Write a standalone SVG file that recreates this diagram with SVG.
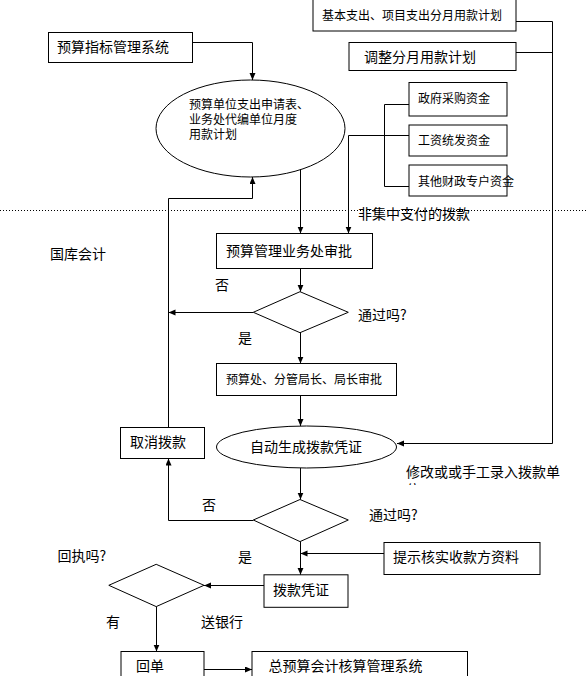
<svg xmlns="http://www.w3.org/2000/svg" width="588" height="676" viewBox="0 0 588 676">
<style>
.b{fill:#fff;stroke:#000;stroke-width:1}
.c{fill:none;stroke:#000;stroke-width:1}
.t{font-family:"Noto Sans CJK SC","Liberation Sans",sans-serif;font-size:14px;fill:#000;dominant-baseline:central}
.s{font-size:12px}
.dot{fill:none;stroke:#000;stroke-width:1;stroke-dasharray:1,2}
</style>
<defs>
<marker id="a" markerUnits="userSpaceOnUse" markerWidth="8" markerHeight="8" refX="7" refY="3" orient="auto">
<path d="M0,0 L7,3 L0,6 z" fill="#000"/>
</marker>
<clipPath id="clip1"><rect x="400" y="460" width="188" height="25"/></clipPath>
</defs>
<rect width="588" height="676" fill="#fff"/>
<line class="dot" x1="0" y1="210.5" x2="588" y2="210.5"/>
<g id="connectors">
<polyline class="c" points="516,21.5 552.5,21.5 552.5,443.5 397,443.5" marker-end="url(#a)"/>
<polyline class="c" points="516,52.5 552.5,52.5"/>
<polyline class="c" points="192.5,42.5 252.5,42.5 252.5,80" marker-end="url(#a)"/>
<polyline class="c" points="409,104.5 384.5,104.5 384.5,186.5 409,186.5"/>
<polyline class="c" points="409,135.5 348.5,135.5 348.5,233.5" marker-end="url(#a)"/>
<polyline class="c" points="300.5,167 300.5,233.5" marker-end="url(#a)"/>
<polyline class="c" points="300.5,268.5 300.5,291.7" marker-end="url(#a)"/>
<polyline class="c" points="253.3,312.5 168.5,312.5" marker-end="url(#a)"/>
<polyline class="c" points="300.5,332.7 300.5,363.5" marker-end="url(#a)"/>
<polyline class="c" points="300.5,395.5 300.5,426" marker-end="url(#a)"/>
<polyline class="c" points="168.5,427.5 168.5,198.5 252.5,198.5 252.5,177" marker-end="url(#a)"/>
<polyline class="c" points="300.5,468 300.5,499.5" marker-end="url(#a)"/>
<polyline class="c" points="253.3,520.5 168.5,520.5 168.5,458.5" marker-end="url(#a)"/>
<polyline class="c" points="300.5,541.6 300.5,574.8" marker-end="url(#a)"/>
<polyline class="c" points="384,553.5 300.5,553.5" marker-end="url(#a)"/>
<polyline class="c" points="264,585.5 204,585.5" marker-end="url(#a)"/>
<polyline class="c" points="156.5,606.6 156.5,651.5" marker-end="url(#a)"/>
<polyline class="c" points="204,669.5 252,669.5" marker-end="url(#a)"/>
</g>
<g id="n1"><rect class="b" x="313" y="-1" width="203" height="32"/><text class="t s" x="322" y="14">基本支出、项目支出分月用款计划</text></g>
<g id="n2"><rect class="b" x="349" y="42.5" width="167" height="28"/><text class="t" x="364" y="56">调整分月用款计划</text></g>
<g id="n3"><rect class="b" x="48.5" y="32.5" width="144" height="30"/><text class="t" x="57" y="46">预算指标管理系统</text></g>
<g id="n4"><ellipse class="b" cx="250.5" cy="128.5" rx="94.5" ry="48.5"/>
<text class="t s" x="189" y="103.5">预算单位支出申请表、</text>
<text class="t s" x="189" y="118.5">业务处代编单位月度</text>
<text class="t s" x="189" y="133">用款计划</text></g>
<g id="n5"><rect class="b" x="409" y="82.5" width="98" height="33.5"/><text class="t s" x="418" y="97">政府采购资金</text></g>
<g id="n6"><rect class="b" x="409" y="125" width="98" height="31"/><text class="t s" x="418" y="139">工资统发资金</text></g>
<g id="n7"><rect class="b" x="409" y="165" width="98" height="31"/><text class="t s" x="418" y="180">其他财政专户资金</text></g>
<g id="n8"><rect class="b" x="216.5" y="233.5" width="156" height="35"/><text class="t" x="226" y="249.5">预算管理业务处审批</text></g>
<g id="d1"><polygon class="b" points="300,291.7 348.3,312.3 300,332.7 253.3,312.3"/></g>
<g id="n9"><rect class="b" x="216.5" y="363.5" width="180" height="32"/><text class="t s" x="226" y="378">预算处、分管局长、局长审批</text></g>
<g id="n10"><rect class="b" x="120.5" y="427.5" width="84" height="31"/><text class="t" x="130" y="441">取消拨款</text></g>
<g id="n11"><ellipse class="b" cx="306.5" cy="447" rx="90" ry="21"/><text class="t" x="250" y="446">自动生成拨款凭证</text></g>
<g id="d2"><polygon class="b" points="300,499.5 348.3,520 300,541.6 253.3,520"/></g>
<g id="n12"><rect class="b" x="384" y="542.5" width="156" height="32"/><text class="t" x="393" y="556">提示核实收款方资料</text></g>
<g id="n13"><rect class="b" x="264" y="574.8" width="84" height="32.5"/><text class="t" x="273" y="589">拨款凭证</text></g>
<g id="d3"><polygon class="b" points="156.2,564.3 204,585.3 156.2,606.6 108.8,585.3"/></g>
<g id="n14"><rect class="b" x="121" y="651.5" width="83" height="30"/><text class="t" x="136" y="665">回单</text></g>
<g id="n15"><rect class="b" x="252" y="651.5" width="215.5" height="30"/><text class="t" x="268.5" y="665">总预算会计核算管理系统</text></g>
<g id="labels">
<text class="t" x="358" y="213">非集中支付的拨款</text>
<text class="t" x="50" y="253">国库会计</text>
<text class="t" x="215" y="284">否</text>
<text class="t" x="358" y="314">通过吗?</text>
<text class="t" x="238" y="337">是</text>
<text class="t" x="406" y="471">修改或或手工录入拨款单</text>
<text class="t" x="406" y="489" clip-path="url(#clip1)">位</text>
<text class="t" x="202" y="503.5">否</text>
<text class="t" x="369" y="513.5">通过吗?</text>
<text class="t" x="57.5" y="555">回执吗?</text>
<text class="t" x="238" y="556">是</text>
<text class="t" x="106" y="621">有</text>
<text class="t" x="201" y="621">送银行</text>
</g>
</svg>
